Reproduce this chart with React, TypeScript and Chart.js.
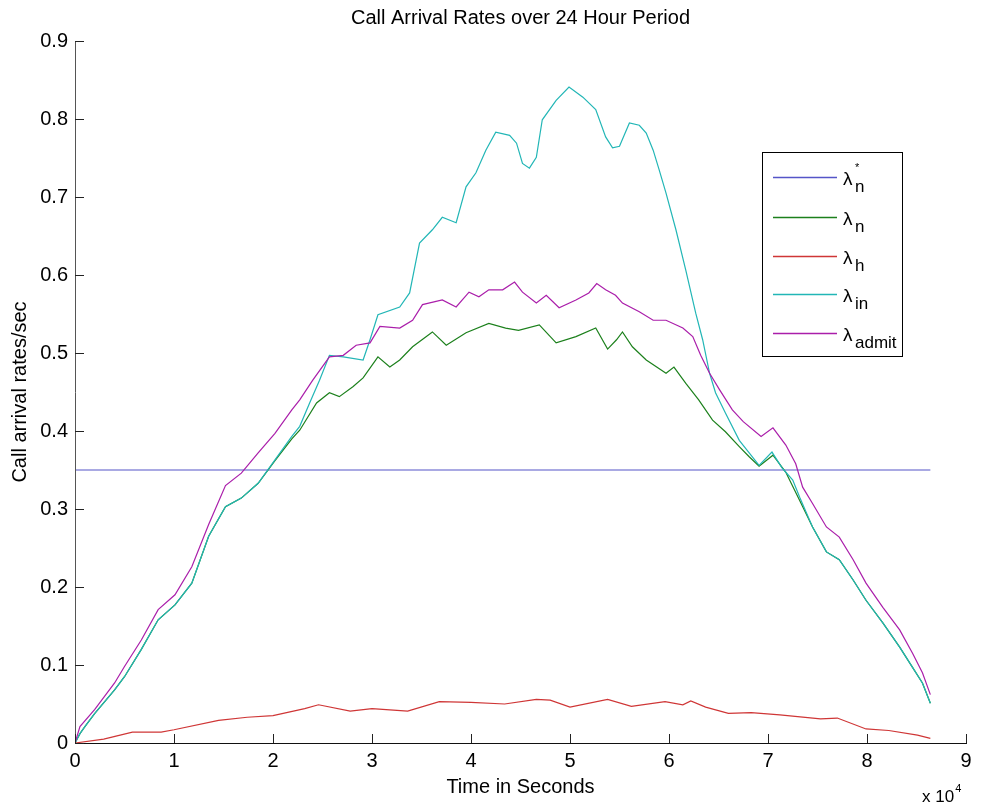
import React, { useEffect, useRef } from "react";
import { Chart, registerables } from "chart.js";
Chart.register(...registerables);

// ---------- data (times in seconds) ----------
const xTickLabels = ["0", "1", "2", "3", "4", "5", "6", "7", "8", "9"];
const yTickLabels = ["0", "0.1", "0.2", "0.3", "0.4", "0.5", "0.6", "0.7", "0.8", "0.9"];

const legendSub = ["n", "n", "h", "in", "admit"];
const legendSup = ["*", "", "", "", ""];

const starTimes = [0, 86400];
const starRates = [0.35, 0.35];

const nTimes = [0, 500, 1000, 2000, 4000, 5000, 6700, 8400, 10100, 11800, 13500, 15200, 16800, 18500, 20200, 21900, 22700, 24400, 25700, 26700, 28100, 29100, 30600, 31800, 32800, 34100, 36100, 37500, 39500, 41800, 43500, 44800, 46900, 48600, 50600, 52600, 53800, 54700, 55300, 56300, 57700, 59700, 60500, 61700, 63000, 64400, 65700, 67100, 68100, 69100, 70500, 71800, 73200, 74500, 75900, 77200, 78600, 79900, 81600, 83300, 84600, 85600, 86400];
const nRates = [0, 0.012, 0.021, 0.038, 0.068, 0.085, 0.12, 0.158, 0.177, 0.205, 0.265, 0.303, 0.314, 0.333, 0.362, 0.39, 0.401, 0.436, 0.449, 0.444, 0.457, 0.468, 0.495, 0.482, 0.491, 0.508, 0.527, 0.51, 0.526, 0.538, 0.532, 0.529, 0.536, 0.513, 0.521, 0.532, 0.505, 0.517, 0.527, 0.508, 0.491, 0.474, 0.482, 0.461, 0.44, 0.414, 0.399, 0.38, 0.367, 0.355, 0.369, 0.347, 0.311, 0.277, 0.245, 0.235, 0.209, 0.183, 0.154, 0.123, 0.097, 0.077, 0.051];

const hTimes = [0, 2900, 5800, 8700, 10000, 14500, 17400, 20000, 23200, 24600, 27800, 30000, 33600, 36800, 40000, 43400, 46600, 48000, 50000, 53800, 56200, 59600, 61400, 62200, 63700, 66000, 68300, 71200, 75300, 77000, 79900, 82200, 85100, 86400];
const hRates = [0, 0.005, 0.014, 0.014, 0.017, 0.029, 0.033, 0.035, 0.044, 0.049, 0.041, 0.044, 0.041, 0.053, 0.052, 0.05, 0.056, 0.055, 0.046, 0.056, 0.047, 0.053, 0.049, 0.054, 0.046, 0.038, 0.039, 0.036, 0.031, 0.032, 0.018, 0.016, 0.01, 0.006];

const inTimes = [0, 500, 1000, 2000, 4000, 5000, 6700, 8400, 10100, 11800, 13500, 15200, 16800, 18500, 20200, 21900, 22700, 23700, 24700, 25700, 27100, 29100, 29800, 30600, 32800, 33800, 34800, 36100, 37100, 38500, 39500, 40500, 41500, 42500, 43900, 44600, 45200, 45900, 46600, 47200, 48600, 49900, 51300, 52600, 53600, 54300, 55000, 56000, 57000, 57700, 58400, 59000, 59700, 60700, 61700, 62700, 63400, 64100, 64700, 65700, 67100, 68100, 69100, 70400, 71400, 72500, 73200, 74500, 75900, 77200, 78600, 79900, 81600, 83300, 84600, 85600, 86400];
const inRates = [0, 0.012, 0.021, 0.038, 0.068, 0.085, 0.12, 0.158, 0.177, 0.205, 0.265, 0.303, 0.314, 0.333, 0.363, 0.393, 0.406, 0.436, 0.465, 0.497, 0.495, 0.491, 0.517, 0.549, 0.559, 0.577, 0.641, 0.658, 0.674, 0.667, 0.713, 0.731, 0.76, 0.783, 0.779, 0.769, 0.743, 0.737, 0.751, 0.799, 0.824, 0.841, 0.828, 0.812, 0.777, 0.763, 0.765, 0.795, 0.792, 0.782, 0.76, 0.735, 0.705, 0.658, 0.606, 0.551, 0.517, 0.474, 0.449, 0.423, 0.388, 0.372, 0.356, 0.373, 0.353, 0.337, 0.315, 0.277, 0.245, 0.235, 0.209, 0.183, 0.154, 0.123, 0.097, 0.077, 0.051];

const admitTimes = [0, 500, 2000, 4000, 5000, 6700, 8400, 10100, 11800, 13500, 15200, 16800, 18500, 20200, 21900, 22700, 24000, 25700, 27100, 28400, 29800, 30800, 32800, 34100, 35100, 37100, 38500, 39800, 40800, 41800, 43200, 44400, 45200, 46600, 47600, 48900, 50600, 51900, 52700, 53600, 54600, 55300, 57000, 58400, 59700, 61400, 62400, 63200, 64100, 65100, 66400, 67500, 69300, 70500, 71800, 72800, 73500, 74500, 75900, 77200, 78600, 79900, 81600, 83300, 84600, 85600, 86400];
const admitRates = [0, 0.021, 0.043, 0.077, 0.098, 0.132, 0.171, 0.19, 0.226, 0.28, 0.33, 0.346, 0.372, 0.397, 0.427, 0.44, 0.465, 0.495, 0.497, 0.51, 0.513, 0.534, 0.532, 0.542, 0.562, 0.568, 0.559, 0.578, 0.572, 0.581, 0.581, 0.591, 0.578, 0.564, 0.574, 0.558, 0.568, 0.577, 0.589, 0.581, 0.574, 0.564, 0.553, 0.542, 0.542, 0.532, 0.521, 0.497, 0.474, 0.453, 0.427, 0.412, 0.393, 0.404, 0.382, 0.358, 0.328, 0.307, 0.277, 0.264, 0.235, 0.205, 0.174, 0.145, 0.115, 0.09, 0.062];

const seriesColors = ["#5555c8", "#1c801c", "#cf3636", "#22b6b6", "#aa1eaa"];

const FONT = '"Liberation Sans", Arial, Helvetica, sans-serif';

function pts(times: number[], vals: number[]) {
  return times.map((t, i) => ({ x: t, y: vals[i] }));
}

const decorPlugin = {
  id: "decor",
  afterDraw(chart: any) {
    const ctx = chart.ctx as CanvasRenderingContext2D;
    const { left, right, top, bottom } = chart.chartArea;
    const xs = chart.scales.x;
    const ys = chart.scales.y;
    ctx.save();
    ctx.lineWidth = 1;
    // axes (no box)
    ctx.strokeStyle = "#555";
    ctx.beginPath();
    ctx.moveTo(left + 0.5, top);
    ctx.lineTo(left + 0.5, bottom + 1);
    ctx.stroke();
    ctx.strokeStyle = "#111";
    ctx.beginPath();
    ctx.moveTo(left, bottom + 0.5);
    ctx.lineTo(right + 1, bottom + 0.5);
    ctx.stroke();
    // inward ticks
    ctx.strokeStyle = "#222";
    ctx.beginPath();
    yTickLabels.forEach((_, i) => {
      const py = Math.round(ys.getPixelForValue(i / 10)) + 0.5;
      ctx.moveTo(left, py);
      ctx.lineTo(left + 9, py);
    });
    xTickLabels.forEach((_, i) => {
      const px = Math.round(xs.getPixelForValue(i * 10000)) + 0.5;
      ctx.moveTo(px, bottom);
      ctx.lineTo(px, bottom - 9);
    });
    ctx.stroke();

    // titles
    ctx.fillStyle = "#000";
    ctx.textAlign = "center";
    ctx.textBaseline = "middle";
    ctx.font = `20px ${FONT}`;
    const cx = (left + right) / 2;
    ctx.fillText("Call Arrival Rates over 24 Hour Period", cx, 18);
    ctx.fillText("Time in Seconds", cx, 787);
    ctx.save();
    ctx.translate(20, (top + bottom) / 2);
    ctx.rotate(-Math.PI / 2);
    ctx.fillText("Call arrival rates/sec", 0, 0);
    ctx.restore();

    // x 10^4 multiplier
    ctx.textAlign = "left";
    ctx.textBaseline = "alphabetic";
    ctx.font = `17px ${FONT}`;
    const mult = "x 10";
    ctx.fillText(mult, 922, 802);
    const mw = ctx.measureText(mult).width;
    ctx.font = `11px ${FONT}`;
    ctx.fillText("4", 922 + mw + 1, 792);

    // legend
    const bx = 762, by = 152, bw = 140, bh = 204;
    ctx.fillStyle = "#fff";
    ctx.fillRect(bx, by, bw, bh);
    ctx.strokeStyle = "#000";
    ctx.lineWidth = 1;
    ctx.strokeRect(bx + 0.5, by + 0.5, bw, bh);
    const rowY = [177, 217, 256, 294, 333];
    for (let i = 0; i < legendSub.length; i++) {
      const ly = rowY[i];
      ctx.beginPath();
      ctx.strokeStyle = seriesColors[i];
      ctx.lineWidth = 1.4;
      ctx.moveTo(773, ly + 0.5);
      ctx.lineTo(837, ly + 0.5);
      ctx.stroke();
      ctx.fillStyle = "#000";
      ctx.textAlign = "left";
      ctx.textBaseline = "alphabetic";
      ctx.font = `19px ${FONT}`;
      ctx.fillText("λ", 843, ly + 8);
      ctx.font = `17px ${FONT}`;
      ctx.fillText(legendSub[i], 855, ly + 15);
      if (legendSup[i]) {
        ctx.font = `11px ${FONT}`;
        ctx.fillText(legendSup[i], 855, ly - 6);
      }
    }
    ctx.restore();
  },
};

export default function App() {
  const ref = useRef<HTMLCanvasElement | null>(null);
  useEffect(() => {
    if (!ref.current) return;
    const seriesData = [
      pts(starTimes, starRates),
      pts(nTimes, nRates),
      pts(hTimes, hRates),
      pts(inTimes, inRates),
      pts(admitTimes, admitRates),
    ];
    const chart = new Chart(ref.current, {
      type: "line",
      data: {
        datasets: seriesData.map((d, i) => ({
          label: "λ" + legendSup[i] + legendSub[i],
          data: d,
          borderColor: seriesColors[i],
          backgroundColor: seriesColors[i],
          borderWidth: 1.2,
          pointRadius: 0,
          tension: 0,
          fill: false,
          order: 5 - i,
        })),
      },
      options: {
        responsive: false,
        animation: false,
        devicePixelRatio: 1,
        layout: { padding: { top: 41, right: 15, left: 0, bottom: 0 } },
        plugins: {
          legend: { display: false },
          title: { display: false },
          tooltip: { enabled: false },
        },
        scales: {
          x: {
            type: "linear",
            min: 0,
            max: 90000,
            grid: { display: false, drawTicks: false },
            border: { display: false },
            afterFit: (s: any) => {
              s.height = 68;
            },
            ticks: {
              stepSize: 10000,
              autoSkip: false,
              maxRotation: 0,
              padding: 6,
              color: "#000",
              font: { family: FONT, size: 20 },
              callback: (v: any) => xTickLabels[Math.round(Number(v) / 10000)],
            },
          },
          y: {
            type: "linear",
            min: 0,
            max: 0.9,
            grid: { display: false, drawTicks: false },
            border: { display: false },
            afterFit: (s: any) => {
              s.width = 75;
            },
            ticks: {
              stepSize: 0.1,
              padding: 7,
              color: "#000",
              font: { family: FONT, size: 20 },
              callback: (v: any) => yTickLabels[Math.round(Number(v) * 10)],
            },
          },
        },
      },
      plugins: [decorPlugin],
    });
    return () => chart.destroy();
  }, []);
  return (
    <div style={{ position: "fixed", left: 0, top: 0, width: 981, height: 811, background: "#fff" }}>
      <canvas ref={ref} width={981} height={811} style={{ display: "block" }} />
    </div>
  );
}
